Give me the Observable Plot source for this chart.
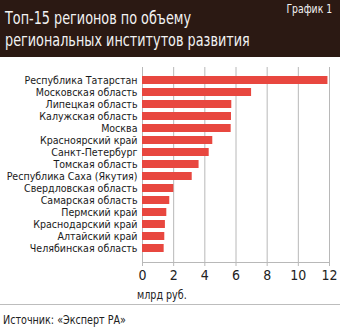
<!DOCTYPE html>
<html><head><meta charset="utf-8">
<script src="https://cdn.jsdelivr.net/npm/d3@7"></script>
<script src="https://cdn.jsdelivr.net/npm/@observablehq/plot@0.6"></script>
<style>
body{margin:0;background:#fff;font-family:"DejaVu Sans Condensed",sans-serif;}
#wrap{position:relative;width:340px;height:329px;overflow:hidden;background:#fff}
#head{position:absolute;left:0;top:0;width:340px;height:57px;background:#2b1913;color:#f2f2f2}
.t{position:absolute;left:5px;font-size:18.5px;white-space:nowrap;line-height:1;transform:scaleX(0.77);transform-origin:0 0}
#t1{top:9px}
#t2{top:31px}
#num{position:absolute;right:8px;top:3px;font-size:12px;line-height:1;white-space:nowrap;transform:scaleX(0.86);transform-origin:100% 0}
#chart{position:absolute;left:0;top:58px}
#unit{position:absolute;left:137px;top:289px;font-size:12.5px;color:#222;line-height:1;white-space:nowrap;transform:scaleX(0.85);transform-origin:0 0}
#sep{position:absolute;left:0;top:304px;width:340px;height:1px;background:#bdbdbd}
#src{position:absolute;left:3px;top:313px;font-size:13px;color:#222;line-height:1;white-space:nowrap;transform:scaleX(0.82);transform-origin:0 0}
</style></head>
<body>
<div id="wrap">
  <div id="head">
    <div class="t" id="t1">Топ-15 регионов по объему</div>
    <div class="t" id="t2">региональных институтов развития</div>
    <div id="num">График 1</div>
  </div>
  <div id="chart"></div>
  <div id="unit">млрд руб.</div>
  <div id="sep"></div>
  <div id="src">Источник: «Эксперт РА»</div>
</div>
<script>
const regions = [
  "Республика Татарстан",
  "Московская область",
  "Липецкая область",
  "Калужская область",
  "Москва",
  "Красноярский край",
  "Санкт-Петербург",
  "Томская область",
  "Республика Саха (Якутия)",
  "Свердловская область",
  "Самарская область",
  "Пермский край",
  "Краснодарский край",
  "Алтайский край",
  "Челябинская область"
];
const values = [11.9, 7.0, 5.73, 5.71, 5.69, 4.51, 4.28, 3.63, 3.19, 2.01, 1.75, 1.56, 1.47, 1.43, 1.39];
const xTicks = [0, 2, 4, 6, 8, 10, 12];

const data = regions.map((r, i) => ({region: r, value: values[i]}));
const font = '"DejaVu Sans Condensed",sans-serif';

const chart = Plot.plot({
  width: 340,
  height: 245,
  marginLeft: 142,
  marginRight: 11,
  marginTop: 9,
  marginBottom: 41,
  style: {fontFamily: font, background: "transparent"},
  x: {domain: [0, 12], axis: null},
  y: {domain: regions, padding: 0.3, axis: null},
  marks: [
    Plot.gridX(xTicks, {stroke: "#b8b8b8", strokeOpacity: 1, strokeWidth: 1}),
    Plot.frame({anchor: "bottom", stroke: "#b8b8b8"}),
    Plot.barX(data, {x: "value", y: "region", fill: "#e8473f"}),
    Plot.axisX({ticks: xTicks, tickSize: 4, stroke: "#b8b8b8", tickPadding: 4, fontSize: 14, fill: "#222", label: null}),
    Plot.axisY({tickSize: 0, tickPadding: 5, fontSize: 11, fill: "#1a1a1a", label: null})
  ]
});
// slightly condense the region labels around their right edge (x = 137)
const lab = chart.querySelector('g[aria-label="y-axis tick label"]');
if (lab) {
  const wrapG = document.createElementNS("http://www.w3.org/2000/svg", "g");
  wrapG.setAttribute("transform", "translate(137,0) scale(0.96,1) translate(-137,0)");
  lab.parentNode.insertBefore(wrapG, lab);
  wrapG.appendChild(lab);
}
document.getElementById("chart").appendChild(chart);
</script>
</body></html>
